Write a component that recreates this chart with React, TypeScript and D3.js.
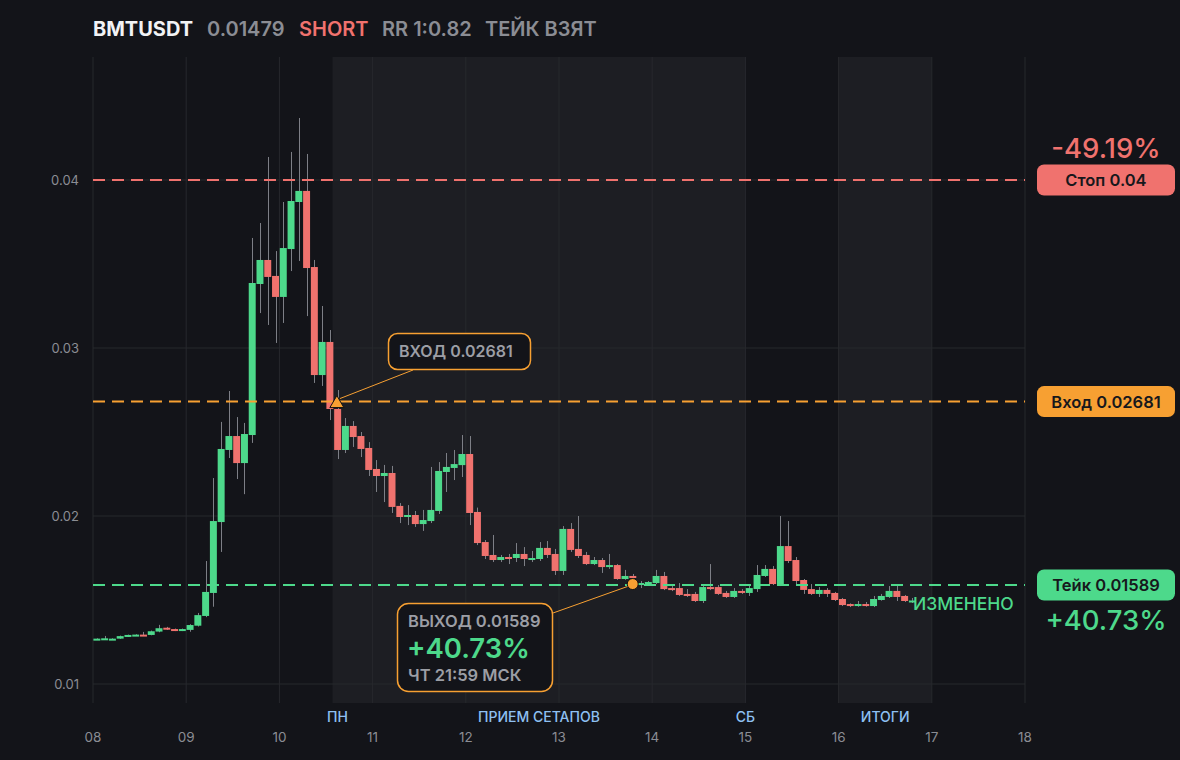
import React, { useEffect } from "react"
import * as d3 from "d3"

const W = 1180
const H = 760

// 2h candles starting 08 Mar, [open, high, low, close]
const candleStart = "2025-03-08T00:00:00Z"
const candleHours = 2
const ohlc: [number, number, number, number][] = [
  // 08
  [0.01265, 0.01272, 0.01262, 0.0127], [0.0127, 0.01286, 0.01265, 0.01272],
  [0.01266, 0.01272, 0.01262, 0.0127], [0.0127, 0.01288, 0.01268, 0.01285],
  [0.01282, 0.01294, 0.0128, 0.01292], [0.01292, 0.01296, 0.0129, 0.01294],
  [0.01294, 0.0131, 0.01286, 0.01288], [0.01292, 0.01318, 0.0129, 0.01314],
  [0.01312, 0.01352, 0.01308, 0.01332], [0.01335, 0.0134, 0.01322, 0.01325],
  [0.01327, 0.0133, 0.01315, 0.01318], [0.01318, 0.0133, 0.01315, 0.01327],
  // 09
  [0.01322, 0.01356, 0.01311, 0.01351], [0.01347, 0.01423, 0.01342, 0.0141],
  [0.01405, 0.01732, 0.01398, 0.01548], [0.01542, 0.02226, 0.0146, 0.0197],
  [0.01964, 0.0256, 0.01786, 0.02399], [0.02393, 0.02744, 0.02345, 0.02476],
  [0.02476, 0.02589, 0.0222, 0.02315], [0.02315, 0.02554, 0.0213, 0.02488],
  [0.02482, 0.03655, 0.02435, 0.03387], [0.03381, 0.03744, 0.03208, 0.03524],
  [0.03524, 0.04137, 0.03137, 0.03423], [0.03429, 0.03577, 0.0303, 0.03304],
  // 10
  [0.03304, 0.03869, 0.03149, 0.03595], [0.03589, 0.04167, 0.03458, 0.03875],
  [0.03869, 0.04369, 0.03518, 0.03935], [0.03935, 0.04155, 0.0319, 0.03476],
  [0.03482, 0.03524, 0.02792, 0.02839], [0.02839, 0.0325, 0.02774, 0.03036],
  [0.03036, 0.03107, 0.02571, 0.02637], [0.02637, 0.0275, 0.02339, 0.02393],
  [0.02393, 0.02583, 0.02375, 0.02536], [0.02536, 0.02565, 0.02411, 0.0247],
  [0.02476, 0.025, 0.02351, 0.02399], [0.02405, 0.0244, 0.02238, 0.02274],
  // 11
  [0.0228, 0.02333, 0.02143, 0.02238], [0.02238, 0.02304, 0.02083, 0.02256],
  [0.02256, 0.02298, 0.02018, 0.02054], [0.0206, 0.02077, 0.01958, 0.01994],
  [0.01994, 0.02065, 0.01946, 0.02006], [0.02006, 0.0203, 0.01935, 0.01952],
  [0.01952, 0.02036, 0.01911, 0.01976], [0.0197, 0.02292, 0.01958, 0.02036],
  [0.0203, 0.02321, 0.02012, 0.02268], [0.02262, 0.02375, 0.02143, 0.02292],
  [0.02286, 0.02393, 0.02214, 0.02309], [0.02303, 0.02482, 0.02232, 0.02369],
  // 12
  [0.02369, 0.02476, 0.01946, 0.02018], [0.02024, 0.0205, 0.01827, 0.01839],
  [0.01845, 0.01857, 0.01744, 0.01762], [0.01768, 0.01887, 0.01726, 0.01738],
  [0.01738, 0.01768, 0.01726, 0.01756], [0.01756, 0.01774, 0.01714, 0.01744],
  [0.0175, 0.01839, 0.01726, 0.01774], [0.01774, 0.01815, 0.01702, 0.01744],
  [0.01738, 0.01792, 0.01726, 0.0175], [0.01744, 0.01845, 0.01732, 0.0181],
  [0.0181, 0.01851, 0.0175, 0.01768], [0.01774, 0.01804, 0.01649, 0.01673],
  // 13
  [0.01673, 0.0194, 0.01649, 0.01923], [0.01923, 0.01958, 0.01786, 0.01798],
  [0.01804, 0.02, 0.0175, 0.01762], [0.01768, 0.01786, 0.01708, 0.01714],
  [0.01714, 0.01756, 0.01708, 0.01738], [0.01738, 0.0175, 0.01661, 0.01696],
  [0.01696, 0.01774, 0.01685, 0.01708], [0.01708, 0.01714, 0.0162, 0.01625],
  [0.01625, 0.01679, 0.0162, 0.01643], [0.01643, 0.01655, 0.01625, 0.01631],
  [0.01595, 0.01613, 0.01571, 0.01601], [0.01601, 0.01613, 0.01595, 0.01607],
  // 14
  [0.01601, 0.01679, 0.01595, 0.01643], [0.01643, 0.01667, 0.01559, 0.01565],
  [0.01571, 0.01583, 0.01553, 0.01559], [0.01571, 0.01601, 0.01524, 0.0153],
  [0.01536, 0.01565, 0.01518, 0.01524], [0.01536, 0.01548, 0.01488, 0.01494],
  [0.01494, 0.01583, 0.01482, 0.01577], [0.01577, 0.01714, 0.01559, 0.01565],
  [0.01577, 0.01589, 0.0153, 0.01536], [0.01542, 0.01554, 0.01512, 0.01518],
  [0.01518, 0.01571, 0.01512, 0.01554], [0.01554, 0.01565, 0.01536, 0.01542],
  // 15
  [0.01542, 0.01595, 0.01524, 0.01571], [0.01565, 0.01708, 0.01548, 0.01649],
  [0.01643, 0.01708, 0.01637, 0.01685], [0.01685, 0.01702, 0.01589, 0.01595],
  [0.01595, 0.02, 0.01583, 0.01821], [0.01821, 0.0197, 0.0172, 0.01732],
  [0.01738, 0.01756, 0.01595, 0.01613], [0.01619, 0.01625, 0.01536, 0.0156],
  [0.01565, 0.01595, 0.0153, 0.01536], [0.01536, 0.01577, 0.01518, 0.0156],
  [0.0156, 0.01571, 0.01518, 0.01536], [0.01542, 0.01548, 0.01494, 0.015],
  // 16
  [0.01506, 0.01512, 0.01464, 0.0147], [0.01476, 0.0148, 0.01458, 0.01464],
  [0.01464, 0.01494, 0.0146, 0.01476], [0.01476, 0.01488, 0.0146, 0.01464],
  [0.01464, 0.01524, 0.01458, 0.01506], [0.015, 0.01536, 0.01496, 0.01524],
  [0.01518, 0.01583, 0.01512, 0.01554], [0.01554, 0.01589, 0.01494, 0.01518],
  [0.01524, 0.0153, 0.01488, 0.01494], [0.01494, 0.01512, 0.01482, 0.01497],
]

const domainStart = "2025-03-08T00:00:00Z"
const domainEnd = "2025-03-18T00:00:00Z"
const yTicks = [0.01, 0.02, 0.03, 0.04]

const stopPrice = 0.04
const entryPrice = 0.02681
const takePrice = 0.01589
const entryTime = "2025-03-10T14:48:00Z"
const exitTime = "2025-03-13T18:59:00Z"

// shaded sections + labels under the plot
const shades = [
  ["2025-03-10T13:40:00Z", "2025-03-15T00:00:00Z"],
  ["2025-03-16T00:00:00Z", "2025-03-17T00:00:00Z"],
]
const sectionLabels = ["ПН", "ПРИЕМ СЕТАПОВ", "СБ", "ИТОГИ"]

const headerItems = ["BMTUSDT", "0.01479", "SHORT", "RR 1:0.82", "ТЕЙК ВЗЯТ"]
const headerX = [93, 207, 299, 382, 485]

const BG = "#131419"
const SHADE = "#1d1e23"
const GRID = "#27282d"
const GREEN = "#4dd98b"
const RED = "#f0726e"
const ORANGE = "#f7a032"
const MUTED = "#8b8d94"
const FONT = "Inter, 'Noto Sans', sans-serif"

export default function App() {
  useEffect(() => {
    document.body.style.margin = "0"
    document.body.style.background = BG
  }, [])

  const x = d3.scaleUtc()
    .domain([new Date(domainStart), new Date(domainEnd)])
    .range([93, 1025])
  const y = d3.scaleLinear().domain([0.01, 0.04]).range([684, 180])

  const plotTop = 57
  const plotBottom = 703
  const days = x.ticks(d3.utcDay.every(1)!)
  const start = new Date(candleStart)

  const candles = ohlc.map(([o, h, l, c], i) => {
    const t0 = d3.utcHour.offset(start, i * candleHours)
    const t1 = d3.utcHour.offset(start, (i + 1) * candleHours)
    return { x0: x(t0), x1: x(t1), o, h, l, c }
  })

  const ex = x(new Date(entryTime))
  const ey = y(entryPrice)
  const xx = x(new Date(exitTime))
  const xy = y(takePrice)

  const s0 = [x(new Date(shades[0][0])), x(new Date(shades[0][1]))]
  const s1 = [x(new Date(shades[1][0])), x(new Date(shades[1][1]))]
  const sectionX = [s0[0] + 5, (s0[0] + s0[1]) / 2, s0[1], (s1[0] + s1[1]) / 2]

  const levels = [
    { p: stopPrice, color: RED, label: `Стоп ${stopPrice}` },
    { p: entryPrice, color: ORANGE, label: `Вход ${entryPrice}` },
    { p: takePrice, color: GREEN, label: `Тейк ${takePrice}` },
  ]

  const pillX = 1037
  const pillW = 138
  const pillH = 31
  const pillCx = pillX + pillW / 2

  return (
    <svg width={W} height={H} style={{ display: "block", fontFamily: FONT }}>
      <rect width={W} height={H} fill={BG} />

      {shades.map((s, i) => (
        <rect key={i} x={x(new Date(s[0]))} y={plotTop}
          width={x(new Date(s[1])) - x(new Date(s[0]))} height={plotBottom - plotTop} fill={SHADE} />
      ))}

      {yTicks.map((t) => (
        <g key={t}>
          <line x1={93} x2={1025} y1={y(t)} y2={y(t)} stroke={GRID} strokeWidth={1} />
          <text x={79} y={y(t) + 5} textAnchor="end" fill={MUTED} fontSize={13}>{t}</text>
        </g>
      ))}
      {days.map((d, i) => (
        <g key={i}>
          <line x1={x(d)} x2={x(d)} y1={plotTop} y2={plotBottom} stroke={GRID} strokeWidth={1} />
          <text x={x(d)} y={742} textAnchor="middle" fill={MUTED} fontSize={13.5}>{d3.utcFormat("%d")(d)}</text>
        </g>
      ))}

      {sectionLabels.map((s, i) => (
        <text key={s} x={sectionX[i]} y={722} textAnchor="middle" fill="#8ec0f2" fontSize={14} fontWeight={500}>{s}</text>
      ))}

      {/* candles */}
      {candles.map((d, i) => {
        const cx = Math.round((d.x0 + d.x1) / 2) + 0.5
        const up = d.c >= d.o
        const top = y(Math.max(d.o, d.c))
        const bot = y(Math.min(d.o, d.c))
        return (
          <g key={i}>
            <line x1={cx} x2={cx} y1={y(d.h)} y2={y(d.l)} stroke="#7d7f86" strokeWidth={1} />
            <rect x={d.x0 + 0.4} width={d.x1 - d.x0 - 0.8} y={top} height={Math.max(2, bot - top)}
              fill={up ? GREEN : RED} />
          </g>
        )
      })}

      {/* level lines */}
      {levels.map((l) => (
        <line key={l.label} x1={93} x2={1025} y1={y(l.p)} y2={y(l.p)} stroke={l.color}
          strokeWidth={2} strokeDasharray="12 7" />
      ))}

      {/* entry annotation */}
      <line x1={ex + 3} y1={ey - 3} x2={413} y2={370} stroke={ORANGE} strokeWidth={1} />
      <path d={`M${ex},${ey - 6} L${ex + 7},${ey + 6} L${ex - 7},${ey + 6} Z`} fill={ORANGE} stroke="#111" strokeWidth={1} />
      <rect x={388.5} y={333.5} width={142} height={36} rx={9} fill={BG} stroke={ORANGE} strokeWidth={1.5} />
      <text x={399} y={357} fill="#9c9ea5" fontSize={16} fontWeight={600}>ВХОД {entryPrice}</text>

      {/* exit annotation */}
      <line x1={553} y1={613} x2={xx - 4} y2={xy + 1} stroke={ORANGE} strokeWidth={1} />
      <circle cx={xx} cy={xy - 1} r={5.5} fill={ORANGE} stroke="#111" strokeWidth={1} />
      <rect x={397.5} y={603.5} width={155} height={88} rx={11} fill={BG} stroke={ORANGE} strokeWidth={1.5} />
      <text x={408} y={627} fill="#9c9ea5" fontSize={16.5} fontWeight={600}>ВЫХОД {takePrice}</text>
      <text x={407} y={658} fill={GREEN} fontSize={27.5} fontWeight={600}>+40.73%</text>
      <text x={408} y={681} fill="#9c9ea5" fontSize={16.5} fontWeight={600}>ЧТ 21:59 МСК</text>

      <text x={913} y={610} fill={GREEN} fontSize={17.5} fontWeight={500}>ИЗМЕНЕНО</text>

      {/* right-side labels */}
      {levels.map((l) => (
        <g key={l.label}>
          <rect x={pillX} y={y(l.p) - pillH / 2} width={pillW} height={pillH} rx={7} fill={l.color} />
          <text x={pillCx} y={y(l.p) + 6} textAnchor="middle" fill="#17181c" fontSize={16.5} fontWeight={600}>{l.label}</text>
        </g>
      ))}
      <text x={pillCx} y={158} textAnchor="middle" fill={RED} fontSize={27.5} fontWeight={500}>-49.19%</text>
      <text x={pillCx} y={630} textAnchor="middle" fill={GREEN} fontSize={27.5} fontWeight={500}>+40.73%</text>

      {/* header */}
      {headerItems.map((h, i) => (
        <text key={h} x={headerX[i]} y={36} fontSize={20} fontWeight={i === 0 ? 700 : 600}
          fill={i === 0 ? "#f2f3f5" : i === 2 ? RED : MUTED}>{h}</text>
      ))}
    </svg>
  )
}
